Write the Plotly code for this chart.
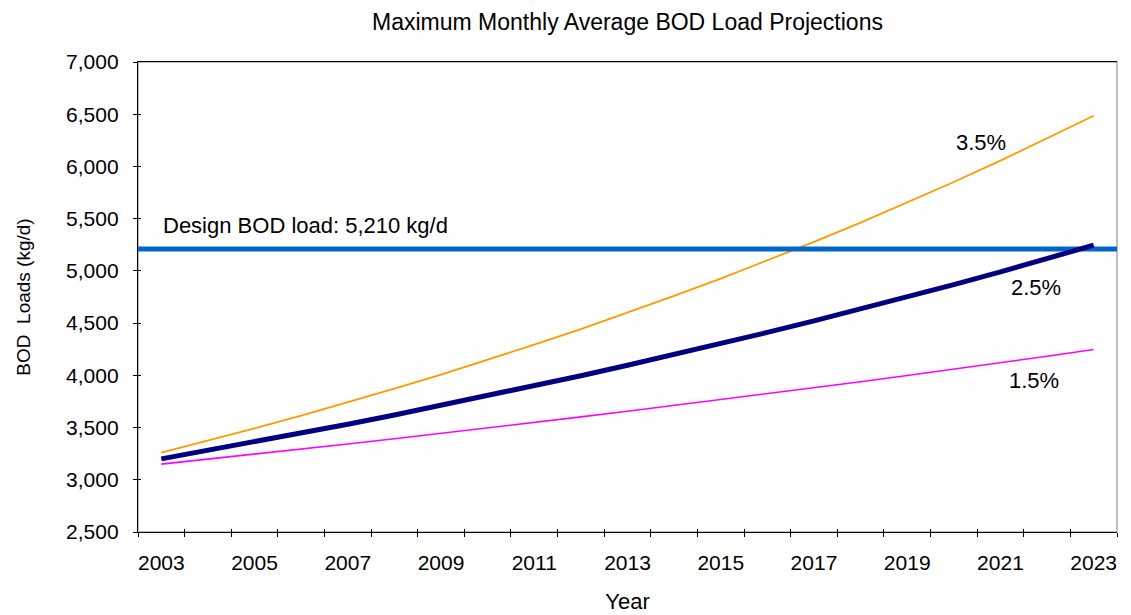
import plotly.graph_objects as go

years = list(range(2003, 2024))
growth_35 = [3260, 3374, 3492, 3614, 3741, 3872, 4007, 4148, 4293, 4443, 4599,
             4760, 4926, 5099, 5277, 5462, 5653, 5851, 6056, 6268, 6485]
growth_25 = [3200, 3280, 3362, 3446, 3532, 3620, 3711, 3804, 3899, 3996, 4096,
             4199, 4304, 4411, 4522, 4635, 4750, 4869, 4991, 5116, 5246]
growth_15 = [3150, 3197, 3245, 3294, 3343, 3393, 3444, 3496, 3549, 3602, 3656,
             3711, 3766, 3823, 3880, 3938, 3998, 4058, 4120, 4183, 4248]
design_load = 5210
series_labels = ["3.5%", "2.5%", "1.5%"]
y_ticks = list(range(2500, 7001, 500))
x_label_years = list(range(2003, 2024, 2))

FONT = "Liberation Sans, Arial, sans-serif"
x_bounds = [y - 0.5 for y in years] + [years[-1] + 0.5]
x_range = [years[0] - 0.5, years[-1] + 0.5]
y_range = [y_ticks[0], y_ticks[-1]]

W, H = 1131, 615
ML, MR, MT, MB = 130, 22, 54, 91

fig = go.Figure()

fig.add_trace(go.Scatter(x=years, y=growth_15, mode="lines",
                         line=dict(color="#FF00FF", width=1.6), name="1.5%",
                         showlegend=False))
fig.add_trace(go.Scatter(x=years, y=growth_35, mode="lines",
                         line=dict(color="#FF9900", width=1.8), name="3.5%",
                         showlegend=False))
fig.add_trace(go.Scatter(x=x_range, y=[design_load, design_load], mode="lines",
                         line=dict(color="#0066CC", width=5), name="Design",
                         showlegend=False, cliponaxis=False))
fig.add_trace(go.Scatter(x=years, y=growth_25, mode="lines",
                         line=dict(color="#000080", width=5), name="2.5%",
                         showlegend=False))
# empty trace to register the overlay axes used for the inner half of cross ticks
fig.add_trace(go.Scatter(x=[], y=[], xaxis="x2", yaxis="y2", showlegend=False))

fig.add_shape(type="rect", xref="paper", yref="paper", x0=0, x1=1, y0=0, y1=1,
              line=dict(color="#808080", width=1), layer="below")

tick_font = dict(family=FONT, size=21, color="black")
text_font = dict(family=FONT, size=22, color="black")

fig.update_layout(
    width=W, height=H,
    margin=dict(l=ML, r=MR, t=MT, b=MB),
    paper_bgcolor="white", plot_bgcolor="white",
    title=dict(text="Maximum Monthly Average BOD Load Projections",
               x=(ML + (W - MR)) / 2 / W, xanchor="center", y=1 - 14 / H,
               yanchor="middle", font=dict(family=FONT, size=23, color="black")),
    xaxis=dict(range=x_range, tickmode="array", tickvals=x_label_years,
               ticktext=[str(y) for y in x_label_years], ticks="",
               showgrid=False, zeroline=False, showline=True, linecolor="black",
               linewidth=1.3, mirror=True, tickfont=tick_font,
               ticklabelstandoff=12, automargin=False,
               minor=dict(tickmode="array", tickvals=x_bounds, ticks="outside",
                          ticklen=4, tickcolor="black", tickwidth=1, showgrid=False),
               title=dict(text="Year", font=text_font, standoff=20)),
    yaxis=dict(range=y_range, tickmode="array", tickvals=y_ticks,
               ticktext=[f"{v:,}" for v in y_ticks], ticks="outside", ticklen=4,
               tickcolor="black", showgrid=False, zeroline=False, showline=True,
               linecolor="black", linewidth=1.3, tickfont=tick_font,
               ticklabelstandoff=10, automargin=False,
               title=dict(text="BOD  Loads (kg/d)",
                          font=dict(family=FONT, size=19, color="black"),
                          standoff=30)),
    xaxis2=dict(range=x_range, overlaying="x", tickmode="array", tickvals=x_bounds,
                ticks="inside", ticklen=3, tickcolor="black", showticklabels=False,
                showgrid=False, zeroline=False, showline=False),
    yaxis2=dict(range=y_range, overlaying="y", tickmode="array", tickvals=y_ticks,
                ticks="inside", ticklen=3, tickcolor="black", showticklabels=False,
                showgrid=False, zeroline=False, showline=False),
)

fig.add_annotation(x=2020.58, y=6231, text=series_labels[0], showarrow=False,
                   font=text_font)
fig.add_annotation(x=2021.76, y=4844, text=series_labels[1], showarrow=False,
                   font=text_font)
fig.add_annotation(x=2021.72, y=3948, text=series_labels[2], showarrow=False,
                   font=text_font)
fig.add_annotation(x=2003.0, y=5432, text=f"Design BOD load: {design_load:,} kg/d",
                   showarrow=False, xanchor="left", font=text_font)

fig.write_html("out.html")
